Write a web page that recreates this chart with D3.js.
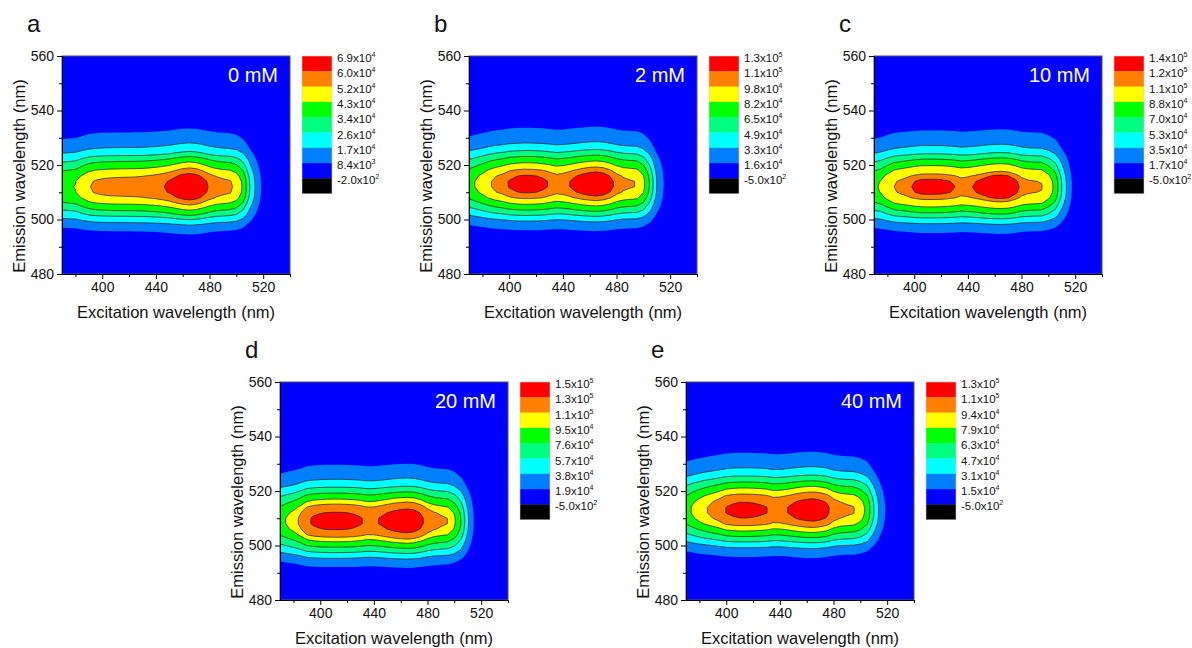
<!DOCTYPE html>
<html>
<head>
<meta charset="utf-8">
<script src="https://cdn.jsdelivr.net/npm/d3@7"></script>
<style>
  body { margin: 0; background: #fff; }
  text { font-family: "Liberation Sans", Arial, sans-serif; }
</style>
</head>
<body>
<svg id="chart" width="1192" height="648"></svg>
<script>
(function(){
	// ---- data ----
	// grid axes (nm)
	var excitation = [370,375,380,385,390,395,400,405,410,415,420,425,430,435,440,445,450,455,
	                  460,465,470,475,480,485,490,495,500,505,510,515,520,525,530,535,540];
	var emission = [480,482,484,486,488,490,492,494,496,498,500,502,504,506,508,510,512,514,516,518,
	                520,522,524,526,528,530,532,534,536,538,540,542,544,546,548,550,552,554,556,558,560];

	var letters = ["a", "b", "c", "d", "e"];
	var concLabels = ["0 mM", "2 mM", "10 mM", "20 mM", "40 mM"];

	// intensity along the emission maximum, one value per excitation wavelength
	var excA = [41500,42300,43300,47500,51500,53500,54500,55000,55300,55500,55600,55800,56200,57000,58000,59500,61500,64500,
	            67500,69000,67500,63500,59000,56000,54500,53500,50000,41500,26000,14500,5500,1500,400,100,0];
	var excB = [78000,83500,90000,97000,102500,106500,112000,115000,116800,116800,115800,113800,110000,106000,107500,111000,115500,119500,
	            122500,124000,121500,115500,107000,102000,100000,98500,87000,63000,33000,16500,5000,1500,400,100,0];
	var excC = [85000,90000,100000,110000,114000,117500,121500,124500,125000,125000,124500,122800,120300,116500,118000,121000,125000,129000,
	            132000,133000,131000,125000,117000,113500,112000,111000,99000,83000,53000,27000,7000,2000,500,100,0];
	var excD = [90000,97000,104000,114000,128000,133500,136000,137500,138000,138000,137000,135500,132500,128000,128500,132500,137000,141500,
	            144500,146000,143500,135500,124000,117000,113500,111000,98500,76000,41500,16000,3000,800,200,0,0];
	var excE = [74000,81500,88000,94000,99000,104500,111500,114000,115500,115500,114800,113500,111500,107000,107500,110500,114500,118500,
	            121000,122000,119500,114500,104000,99000,97000,95500,88000,75000,48000,25000,11000,3000,800,200,0];

	// relative emission profile, one value per emission wavelength
	var emA = [0.01,0.01,0.02,0.03,0.04,0.06,0.08,0.11,0.16,0.25,0.38,0.53,0.66,0.80,0.92,0.985,1.00,0.985,0.92,0.81,
	           0.69,0.57,0.43,0.32,0.25,0.19,0.15,0.11,0.08,0.06,0.05,0.04,0.03,0.03,0.02,0.02,0.01,0.01,0.01,0.01,0.01];
	var emB = [0.01,0.01,0.015,0.025,0.035,0.05,0.07,0.095,0.135,0.205,0.315,0.455,0.595,0.73,0.86,0.95,0.99,0.99,0.95,0.865,
	           0.75,0.63,0.50,0.375,0.285,0.22,0.17,0.13,0.095,0.07,0.055,0.045,0.035,0.03,0.025,0.02,0.015,0.01,0.01,0.01,0.01];
	var emC = [0.01,0.01,0.02,0.03,0.04,0.06,0.08,0.11,0.16,0.25,0.38,0.53,0.66,0.80,0.92,0.985,1.00,0.985,0.92,0.81,
	           0.69,0.57,0.43,0.32,0.25,0.19,0.15,0.11,0.08,0.06,0.05,0.04,0.03,0.03,0.02,0.02,0.01,0.01,0.01,0.01,0.01];
	var emD = [0.015,0.025,0.035,0.05,0.07,0.095,0.135,0.205,0.315,0.455,0.595,0.73,0.86,0.95,0.99,0.99,0.95,0.865,0.75,0.63,
	           0.50,0.375,0.285,0.22,0.17,0.13,0.095,0.07,0.055,0.045,0.035,0.03,0.025,0.02,0.015,0.01,0.01,0.01,0.01,0.01,0.01];
	var emE = [0.01,0.01,0.015,0.025,0.035,0.05,0.07,0.095,0.135,0.205,0.315,0.455,0.595,0.73,0.86,0.95,0.99,0.99,0.95,0.865,
	           0.75,0.63,0.50,0.375,0.285,0.22,0.17,0.13,0.095,0.07,0.055,0.045,0.035,0.03,0.025,0.02,0.015,0.01,0.01,0.01,0.01];

	// contour levels (legend tick labels, low to high) and legend top value
	var levelsA = [-200, 8400, 17000, 26000, 34000, 43000, 52000, 60000];
	var levelsB = [-500, 16000, 33000, 49000, 65000, 82000, 98000, 110000];
	var levelsC = [-500, 17000, 35000, 53000, 70000, 88000, 110000, 120000];
	var levelsD = [-500, 19000, 38000, 57000, 76000, 95000, 110000, 130000];
	var levelsE = [-500, 15000, 31000, 47000, 63000, 79000, 94000, 110000];
	var topValues = [69000, 130000, 140000, 150000, 130000];

	var xMajor = [400, 440, 480, 520], xMinor = [380, 420, 460, 500, 540];
	var yMajor = [480, 500, 520, 540, 560], yMinor = [490, 510, 530, 550];

	var excProfiles = [excA, excB, excC, excD, excE];
	var emProfiles = [emA, emB, emC, emD, emE];
	var levels = [levelsA, levelsB, levelsC, levelsD, levelsE];

	// ---- layout ----
	var W = 228, H = 218;
	var panels = [
		{left: 62, top: 56}, {left: 469, top: 56}, {left: 874, top: 56},
		{left: 280, top: 382}, {left: 686, top: 382}
	];
	// band colours, lowest band first
	var bandColors = ["#0000FF", "#0080FF", "#00FFFF", "#00FF80", "#00FF00", "#FFFF00", "#FF8000", "#FF0000"];

	var svg = d3.select("#chart");

	function sci(v){
		var e = Math.floor(Math.log10(Math.abs(v)));
		var m = v / Math.pow(10, e);
		return [m.toFixed(1), e];
	}

	panels.forEach(function(p, k){
		var g = svg.append("g").attr("transform", "translate(" + p.left + "," + p.top + ")");
		var x = d3.scaleLinear().domain([370, 540]).range([0, W]);
		var y = d3.scaleLinear().domain([480, 560]).range([H, 0]);

		// intensity grid
		var nx = excitation.length, ny = emission.length;
		var values = new Array(nx * ny);
		for (var j = 0; j < ny; j++){
			for (var i = 0; i < nx; i++){
				values[j * nx + i] = excProfiles[k][i] * emProfiles[k][j];
			}
		}
		var contours = d3.contours().size([nx, ny]).thresholds(levels[k])(values);

		var dx = excitation[1] - excitation[0], dy = emission[1] - emission[0];
		var proj = d3.geoTransform({
			point: function(px, py){
				this.stream.point(x(excitation[0] + (px - 0.5) * dx), y(emission[0] + (py - 0.5) * dy));
			}
		});
		var path = d3.geoPath(proj);

		svg.append("clipPath").attr("id", "clip" + k)
			.append("rect").attr("width", W).attr("height", H);

		g.append("g").attr("clip-path", "url(#clip" + k + ")")
			.selectAll("path")
			.data(contours)
			.join("path")
			.attr("d", path)
			.attr("fill", function(d, i){ return bandColors[i]; })
			.attr("stroke", function(d, i){ return i >= 2 ? "#1a1a1a" : "none"; })
			.attr("stroke-width", 0.7)
			.attr("stroke-linejoin", "round");

		// frame
		g.append("rect").attr("width", W).attr("height", H)
			.attr("fill", "none").attr("stroke", "#555").attr("stroke-width", 1);

		// axes
		g.append("g").attr("transform", "translate(0," + H + ")")
			.call(d3.axisBottom(x).tickValues(xMajor).tickSize(5).tickSizeOuter(0).tickPadding(3));
		g.append("g").attr("transform", "translate(0," + H + ")")
			.call(d3.axisBottom(x).tickValues(xMinor).tickSize(3).tickSizeOuter(0).tickFormat(""));
		g.append("g")
			.call(d3.axisLeft(y).tickValues(yMajor).tickSize(5).tickSizeOuter(0).tickPadding(3));
		g.append("g")
			.call(d3.axisLeft(y).tickValues(yMinor).tickSize(3).tickSizeOuter(0).tickFormat(""));
		g.selectAll(".domain").attr("stroke", "#000");
		g.selectAll(".tick line").attr("stroke", "#000");
		g.selectAll(".tick text").attr("font-size", 14).attr("fill", "#111")
			.attr("font-family", "'Liberation Sans', Arial, sans-serif");

		// titles
		g.append("text").attr("x", W / 2).attr("y", H + 44)
			.attr("text-anchor", "middle").attr("font-size", 16.5).attr("fill", "#111")
			.text("Excitation wavelength (nm)");
		g.append("text").attr("transform", "rotate(-90)")
			.attr("x", -(H / 2 + 11)).attr("y", -37)
			.attr("text-anchor", "middle").attr("font-size", 16.5).attr("fill", "#111")
			.text("Emission wavelength (nm)");
		g.append("text").attr("x", -35).attr("y", -24)
			.attr("font-size", 24).attr("fill", "#111").text(letters[k]);
		g.append("text").attr("x", W - 12).attr("y", 26)
			.attr("text-anchor", "end").attr("font-size", 20).attr("fill", "#fff")
			.text(concLabels[k]);

		// legend
		var lg = g.append("g").attr("transform", "translate(" + (W + 12) + ",0)");
		var boxH = 15.3;
		var legColors = bandColors.slice().reverse().concat(["#000000"]);
		var legLabels = [topValues[k]].concat(levels[k].slice().reverse());
		lg.selectAll("rect.box").data(legColors).join("rect")
			.attr("class", "box")
			.attr("x", 0).attr("y", function(d, i){ return i * boxH; })
			.attr("width", 30).attr("height", boxH + 0.3)
			.attr("fill", function(d){ return d; });
		lg.append("rect").attr("width", 30).attr("height", boxH * legColors.length)
			.attr("fill", "none").attr("stroke", "#ccc").attr("stroke-width", 0.6);
		var lt = lg.selectAll("text").data(legLabels).join("text")
			.attr("x", 35).attr("y", function(d, i){ return i * boxH + 6; })
			.attr("font-size", 11.5).attr("fill", "#111");
		lt.append("tspan").text(function(d){ return sci(d)[0] + "x10"; });
		lt.append("tspan").attr("dy", -5).attr("font-size", 7).text(function(d){ return sci(d)[1]; });
	});
})();
</script>
</body>
</html>
